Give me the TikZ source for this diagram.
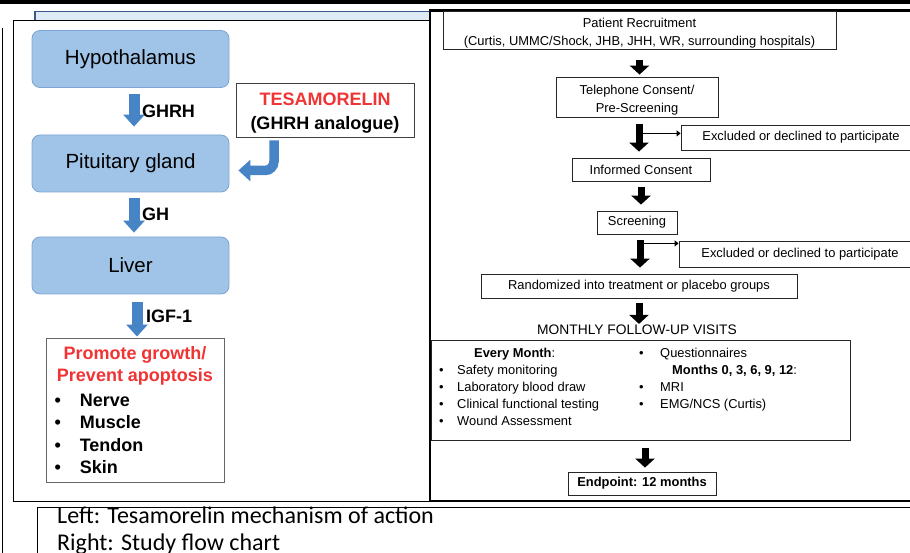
\documentclass[tikz,border=0pt]{standalone}
\usepackage{fontspec}
\setmainfont{Liberation Sans}
\newfontfamily\captionfont{Carlito}
\usetikzlibrary{positioning,arrows.meta}
\definecolor{boxblue}{RGB}{160,196,231}
\definecolor{boxedge}{RGB}{125,165,212}
\definecolor{arrowblue}{RGB}{70,132,198}
\definecolor{tesred}{RGB}{240,52,52}
\definecolor{headblue}{RGB}{58,90,140}
\definecolor{headfill}{RGB}{222,234,244}

\begin{document}
\begin{tikzpicture}[
      x=1pt, y=-1pt,
      organ/.style    ={rounded corners=8pt, draw=boxedge, fill=boxblue,
                        line width=0.8pt, inner sep=0pt,
                        minimum width=197pt, minimum height=57pt,
                        font=\fontsize{20.5}{24}\selectfont},
      hormone/.style  ={inner sep=0pt, outer sep=0pt,
                        font=\fontsize{18}{22}\selectfont\bfseries},
      drugbox/.style  ={draw=black!75, line width=0.9pt, fill=white, align=center,
                        inner sep=0pt, minimum width=178pt, minimum height=54pt,
                        font=\fontsize{18}{24}\selectfont\bfseries},
      effectbox/.style={draw=black!60, line width=0.9pt, fill=white,
                        minimum width=178pt, minimum height=144pt},
      bluearrow/.style={draw=arrowblue, line width=11pt,
                        -{Triangle[width=21pt,length=12pt]}},
      flowbox/.style  ={draw=black!85, line width=0.8pt, fill=white, align=center,
                        inner sep=0pt, font=\fontsize{12.9}{17.5}\selectfont},
      flowarrow/.style={line width=7pt, -{Triangle[width=19pt,length=9pt]}},
      sidearrow/.style={line width=1.6pt, -{Triangle[width=6pt,length=4pt]}},
      listtext/.style ={inner sep=0pt, font=\fontsize{12.9}{17}\selectfont},
      captext/.style  ={inner sep=0pt, font=\captionfont\fontsize{24}{29}\selectfont}
    ]
    \useasboundingbox (0,0) rectangle (910,553);
    \clip (0,0) rectangle (910,553);
    % --- screenshot frame ---
    \fill (0,0) rectangle (910,4.5);
    \draw[draw=headblue, fill=headfill, line width=1.2pt] (35,11.5) rectangle (432,21);
    \draw[line width=1.3pt] (2.5,28) -- (2.5,553);
    \draw[line width=1.8pt, fill=white] (13.5,20.5) rectangle (430,501.5);
    \draw[line width=2.5pt, fill=white] (430,10.5) rectangle (925,501);
    \draw[line width=0.9pt] (37.5,507) rectangle (925,575);

    % --- left: mechanism of action ---
    \node[organ] (hypo)  at (130.5,59)    {Hypothalamus};
    \node[organ] (pit)   at (130.5,163.5) {Pituitary gland};
    \node[organ] (liver) at (130.5,265.5) {Liver};
    \node[effectbox] (effect) at (135,410) {};
    \node[hormone, align=center, text=tesred, font=\fontsize{18}{22.4}\selectfont\bfseries]
      (promote) at (135,366) {Promote growth/\\Prevent apoptosis};
    \node[hormone, anchor=base west, font=\fontsize{18}{22.4}\selectfont\bfseries]
      (tissues) at (54.5,406.5)
      {\begin{tabular}[t]{@{}l@{\hspace{19pt}}l@{}}
         \textbullet & Nerve\\
         \textbullet & Muscle\\
         \textbullet & Tendon\\
         \textbullet & Skin
       \end{tabular}};
    \node[drugbox] (tesa) at (325,110)
      {\rule{0pt}{19pt}\textcolor{tesred}{TESAMORELIN}\\(GHRH analogue)};

    \draw[bluearrow, shorten <=6pt, shorten >=8pt]
      ([xshift=3.5pt]hypo.south) -- ([xshift=3.5pt]pit.north)
      node[hormone, midway, right=8pt] (ghrh) {GHRH};
    \draw[bluearrow, shorten <=6pt, shorten >=4pt]
      ([xshift=3.5pt]pit.south) -- ([xshift=3.5pt]liver.north)
      node[hormone, midway, right=8pt] (gh) {GH};
    \draw[bluearrow, shorten <=8pt, shorten >=1pt]
      ([xshift=6.5pt]liver.south) -- ([xshift=6.5pt]liver.south |- effect.north)
      node[hormone, midway, right=9pt] (igf) {IGF-1};
    \draw[bluearrow, line width=9.5pt, rounded corners=9pt]
      ([xshift=-51pt,yshift=-3pt]tesa.south) |- ([xshift=9pt,yshift=-7pt]pit.east);

    % --- right: study flow ---
    \node[flowbox, minimum width=393pt, minimum height=38pt] (recruit) at (639.5,30)
      {\rule{0pt}{16pt}Patient Recruitment\\(Curtis, UMMC/Shock, JHB, JHH, WR, surrounding hospitals)};
    \node[flowbox, minimum width=162pt, minimum height=40pt] (phone) at (637,97)
      {\rule{0pt}{16pt}Telephone Consent/\\Pre-Screening};
    \node[flowbox, minimum width=240pt, minimum height=25pt] (excla) at (801,137.5)
      {Excluded or declined to participate};
    \node[flowbox, minimum width=138pt, minimum height=23pt] (consent) at (641,169.5)
      {Informed Consent};
    \node[flowbox, minimum width=80pt, minimum height=23pt] (screen) at (637,222.5)
      {Screening};
    \node[flowbox, minimum width=242pt, minimum height=26pt] (exclb) at (800,254)
      {Excluded or declined to participate};
    \node[flowbox, minimum width=316pt, minimum height=24pt] (random) at (639,286)
      {Randomized into treatment or placebo groups};
    \node[inner sep=0pt, font=\fontsize{13.8}{15}\selectfont] (monthly) at (637,330)
      {MONTHLY FOLLOW-UP VISITS};
    \node[flowbox, minimum width=419pt, minimum height=100pt] (visits) at (640.5,390) {};
    \node[listtext, anchor=base west] (everymonth) at (439,357.5)
      {\begin{tabular}[t]{@{}l@{\hspace{13.5pt}}l@{}}
         \multicolumn{2}{@{}l@{}}{\hspace{35pt}\textbf{Every Month}:}\\
         \textbullet & Safety monitoring\\
         \textbullet & Laboratory blood draw\\
         \textbullet & Clinical functional testing\\
         \textbullet & Wound Assessment
       \end{tabular}};
    \node[listtext, anchor=base west] (quarterly) at (639,357.5)
      {\begin{tabular}[t]{@{}l@{\hspace{16.5pt}}l@{}}
         \textbullet & Questionnaires\\
                     & \hspace{12pt}\textbf{Months 0, 3, 6, 9, 12}:\\
         \textbullet & MRI\\
         \textbullet & EMG/NCS (Curtis)
       \end{tabular}};
    \node[flowbox, minimum width=148pt, minimum height=23pt,
          font=\fontsize{12.9}{17}\selectfont\bfseries] (endpoint) at (642,483.5)
      {Endpoint: 12 months};

    \draw[flowarrow, shorten <=11pt, shorten >=2pt]
      (recruit.south) -- (recruit.south |- phone.north);
    \draw[flowarrow, shorten <=7pt, shorten >=6pt]
      ([xshift=2pt]phone.south) -- ([xshift=2pt]phone.south |- consent.north);
    \path ([xshift=2pt]phone.south) ++(0,16) coordinate (splita);
    \draw[sidearrow] (splita) -- (splita -| excla.west);
    \draw[flowarrow, shorten <=6pt, shorten >=6pt]
      (consent.south) -- (consent.south |- screen.north);
    \draw[flowarrow, shorten <=6pt, shorten >=6pt]
      ([xshift=3pt]screen.south) -- ([xshift=3pt]screen.south |- random.north);
    \path ([xshift=3pt]screen.south) ++(0,9) coordinate (splitb);
    \draw[sidearrow] (splitb) -- (splitb -| exclb.west);
    \draw[flowarrow, shorten <=5pt, shorten >=1pt]
      (random.south) -- (random.south |- monthly.north);
    \draw[flowarrow, shorten <=8pt, shorten >=4pt]
      ([xshift=4.5pt]visits.south) -- ([xshift=4.5pt]visits.south |- endpoint.north);

    % --- caption ---
    \node[captext, anchor=base west] (capleft)  at (57,523) {Left: Tesamorelin mechanism of action};
    \node[captext, anchor=base west] (capright) at (57,550) {Right: Study flow chart};
  \end{tikzpicture}
\end{document}
